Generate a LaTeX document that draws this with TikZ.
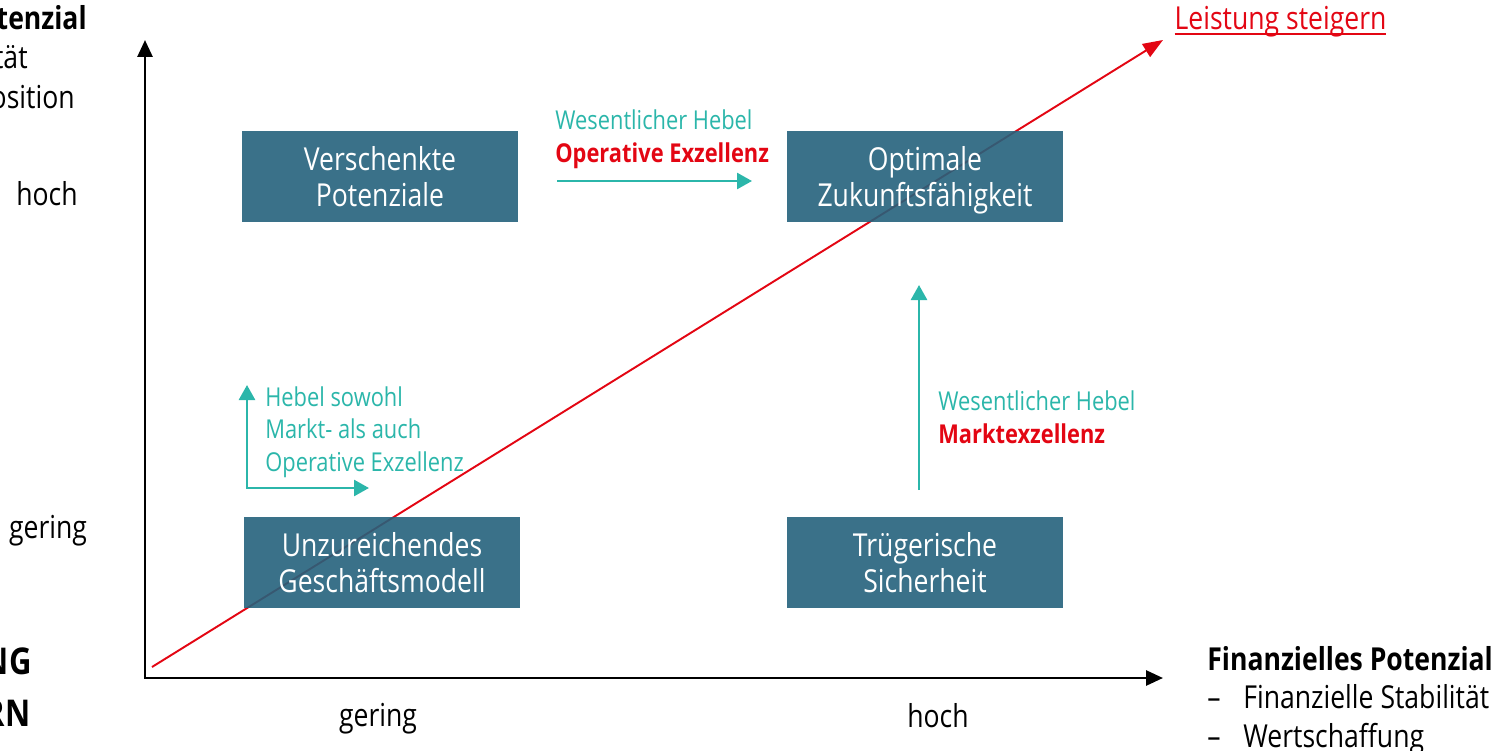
\documentclass[tikz,border=0pt]{standalone}
\usepackage{fontspec}
\setmainfont{Open Sans}[FakeStretch=0.84]
\usetikzlibrary{arrows.meta, positioning}
\definecolor{boxblue}{RGB}{37,98,124}
\definecolor{leverteal}{RGB}{43,182,170}
\definecolor{accentred}{RGB}{227,6,19}
\newcommand{\redunderline}[1]{\setbox0\hbox{#1}\rlap{\rule[-2.6pt]{\wd0}{0.7pt}}\box0}
\tikzstyle{quadrant} = [rectangle, fill=boxblue, fill opacity=0.9, text opacity=1, text=white, minimum width=5.52cm, minimum height=1.82cm, align=center, text depth=0pt, font=\fontsize{18}{21}\selectfont]
\tikzstyle{axis} = [<->, >={Triangle[length=0.34cm, width=0.3cm]}, line width=1.6pt]
\tikzstyle{lever} = [->, >={Triangle[length=0.3cm, width=0.32cm]}, leverteal, line width=1.5pt]
\tikzstyle{trend} = [->, >={Triangle[length=0.4cm, width=0.3cm]}, accentred, line width=1.1pt]
\tikzstyle{levertext} = [align=left, anchor=west, inner sep=0pt, text=leverteal, font=\fontsize{14.8}{18.5}\selectfont]
\tikzstyle{ticklabel} = [font=\fontsize{18}{21}\selectfont]

\begin{document}
\begin{tikzpicture}
  \useasboundingbox (0,0) rectangle (30.2,15);
  % Achsen
  \coordinate (ytop) at (2.9,14.2);
  \coordinate (o) at (2.9,1.44);
  \coordinate (xend) at (23.26,1.44);
  \draw[axis] (ytop) -- (o) -- (xend);

  % Trendlinie
  \coordinate (t0) at (3.04,1.66);
  \coordinate (t1) at (23.26,14.2);
  \draw[trend] (t0) -- (t1);
  \node[ticklabel, text=accentred, anchor=base] (leistung) at (25.61,14.4) {\redunderline{Leistung steigern}};

  % Quadranten
  \node[quadrant] (vp) at (7.6,11.47) {Verschenkte\\Potenziale};
  \node[quadrant] (oz) at (18.5,11.47) {Optimale\\Zukunftsfähigkeit};
  \node[quadrant] (ug) at (7.64,3.75) {Unzureichendes\\Geschäftsmodell};
  \node[quadrant] (ts) at (18.5,3.75) {Trügerische\\Sicherheit};

  % Hebel
  \coordinate (op0) at (11.14,11.38);
  \coordinate (op1) at (15.04,11.38);
  \draw[lever] (op0) -- (op1);
  \node[levertext] (hebelop) at (11.1,12.22) {Wesentlicher Hebel\\\textcolor{accentred}{\textbf{Operative Exzellenz}}};

  \coordinate (mk0) at (18.38,5.2);
  \coordinate (mk1) at (18.38,9.3);
  \draw[lever] (mk0) -- (mk1);
  \node[levertext] (hebelmk) at (18.76,6.66) {Wesentlicher Hebel\\\textcolor{accentred}{\textbf{Marktexzellenz}}};

  \coordinate (bd0) at (4.94,7.3);
  \coordinate (bd1) at (7.38,5.24);
  \draw[lever, <->] (bd0) |- (bd1);
  \node[levertext] (hebelbd) at (5.3,6.36) {Hebel sowohl\\Markt- als auch\\Operative Exzellenz};

  % Achsenbeschriftung
  \node[ticklabel] (yhoch) at (0.94,11.12) {hoch};
  \node[ticklabel] (ygering) at (0.96,4.38) {gering};
  \node[ticklabel] (xgering) at (7.56,0.62) {gering};
  \node[ticklabel] (xhoch) at (18.76,0.68) {hoch};

  \node[anchor=north west, align=left, inner sep=0pt, font=\fontsize{18}{21.8}\selectfont] (finanz) at (24.14,2.08)
    {\textbf{Finanzielles Potenzial}\\\makebox[0.72cm][l]{--}Finanzielle Stabilität\\\makebox[0.72cm][l]{--}Wertschaffung};

  \node[anchor=east, inner sep=0pt, font=\bfseries\fontsize{18}{21}\selectfont] (ytitel) at (1.74,14.64) {tenzial};
  \node[anchor=east, inner sep=0pt, ticklabel] (ystab) at (0.56,13.86) {tät};
  \node[anchor=east, inner sep=0pt, ticklabel] (ypos) at (1.5,13.06) {osition};

  \node[anchor=east, inner sep=0pt, font=\bfseries\fontsize{21}{24}\selectfont] (ng) at (0.64,1.78) {NG};
  \node[anchor=east, inner sep=0pt, font=\bfseries\fontsize{21}{24}\selectfont] (rn) at (0.62,0.74) {RN};
\end{tikzpicture}
\end{document}
